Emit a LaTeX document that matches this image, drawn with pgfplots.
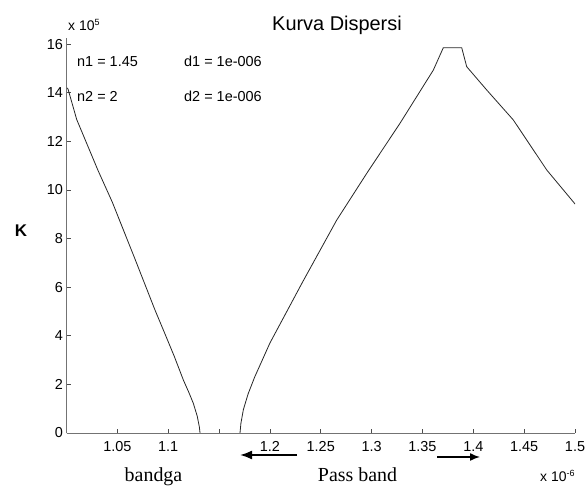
\documentclass[border=0pt]{standalone}
\usepackage{fontspec}
\setmainfont{Liberation Sans}
\newfontfamily\seriffont{Liberation Serif}
\usepackage{pgfplots}
\pgfplotsset{compat=1.18}
\usetikzlibrary{arrows.meta}
\begin{document}
\begin{tikzpicture}[x=1bp,y=1bp]
\path[use as bounding box] (0,0) rectangle (586,488);
\begin{axis}[
  at={(66.5bp,55bp)}, anchor=south west,
  scale only axis, width=508.5bp, height=395bp,
  xmin=1.0, xmax=1.5, ymin=0, ymax=16.25,
  axis x line=bottom, axis y line=left,
  axis line style={-, black!55, line width=0.9bp},
  xtick={1.05,1.1,1.15,1.2,1.25,1.3,1.35,1.4,1.45,1.5},
  xticklabels={1.05,1.1,,1.2,1.25,1.3,1.35,1.4,1.45,1.5},
  ytick={0,2,4,6,8,10,12,14,16},
  tick align=inside, major tick length=4bp,
  tick style={black!70, line width=0.6bp},
  ticklabel style={font=\fontsize{14.5}{16}\selectfont},
  /pgf/number format/assume math mode=true,
  scaled x ticks=false, scaled y ticks=false,
  xticklabel style={anchor=base, yshift=-19bp},
  yticklabel style={anchor=east},
]
\addplot[black!85, line width=0.8bp] coordinates {
(1.0005,14.2) (1.0015,14.15) (1.010,12.9) (1.031,10.8) (1.045,9.5)
(1.066,7.3) (1.087,5.06) (1.0966,4.1) (1.106,3.15) (1.1149,2.18)
(1.1205,1.65) (1.1247,1.22) (1.1285,0.7) (1.1306,0.26) (1.1313,0)
};
\addplot[black!85, line width=0.8bp] coordinates {
(1.1706,0) (1.1715,0.4) (1.1739,0.96) (1.1785,1.6) (1.1850,2.3)
(1.1925,3.0) (1.2,3.7) (1.232,6.2) (1.2657,8.76) (1.2952,10.68)
(1.3279,12.74) (1.3607,14.93) (1.3705,15.85) (1.3886,15.85) (1.3935,15.07)
(1.4132,14.11) (1.4393,12.88) (1.4722,10.82) (1.4983,9.51) (1.5,9.42)
};
\end{axis}
\node[anchor=base, font=\fontsize{20}{24}\selectfont] at (337,457) {Kurva Dispersi};
\node[anchor=base west, inner sep=0pt, font=\fontsize{14}{16}\selectfont] at (68,457) {x 10\raisebox{0.75ex}{\fontsize{9}{9}\selectfont 5}};
\node[anchor=base, inner sep=0pt, font=\bfseries\fontsize{17}{20}\selectfont] at (21,251) {K};
\node[anchor=base west, inner sep=0pt, font=\fontsize{14.5}{16}\selectfont] at (77,421) {n1 = 1.45};
\node[anchor=base west, inner sep=0pt, font=\fontsize{14.5}{16}\selectfont] at (184,421) {d1 = 1e-006};
\node[anchor=base west, inner sep=0pt, font=\fontsize{14.5}{16}\selectfont] at (77,386) {n2 = 2};
\node[anchor=base west, inner sep=0pt, font=\fontsize{14.5}{16}\selectfont] at (184,386) {d2 = 1e-006};
\node[anchor=base, inner sep=0pt, font=\seriffont\fontsize{20}{24}\selectfont] at (153.5,6.3) {bandga};
\node[anchor=base, inner sep=0pt, font=\seriffont\fontsize{20}{24}\selectfont] at (357.5,6.3) {Pass band};
\node[anchor=base west, inner sep=0pt, font=\fontsize{14}{16}\selectfont] at (540,6) {x 10\raisebox{0.75ex}{\fontsize{9}{9}\selectfont -6}};
\draw[line width=1.8bp, -{Latex[length=12bp,width=9bp]}] (297,33) -- (240,33);
\draw[line width=1.5bp, -{Latex[length=10bp,width=8bp]}] (437,31) -- (480,31);
\end{tikzpicture}
\end{document}
